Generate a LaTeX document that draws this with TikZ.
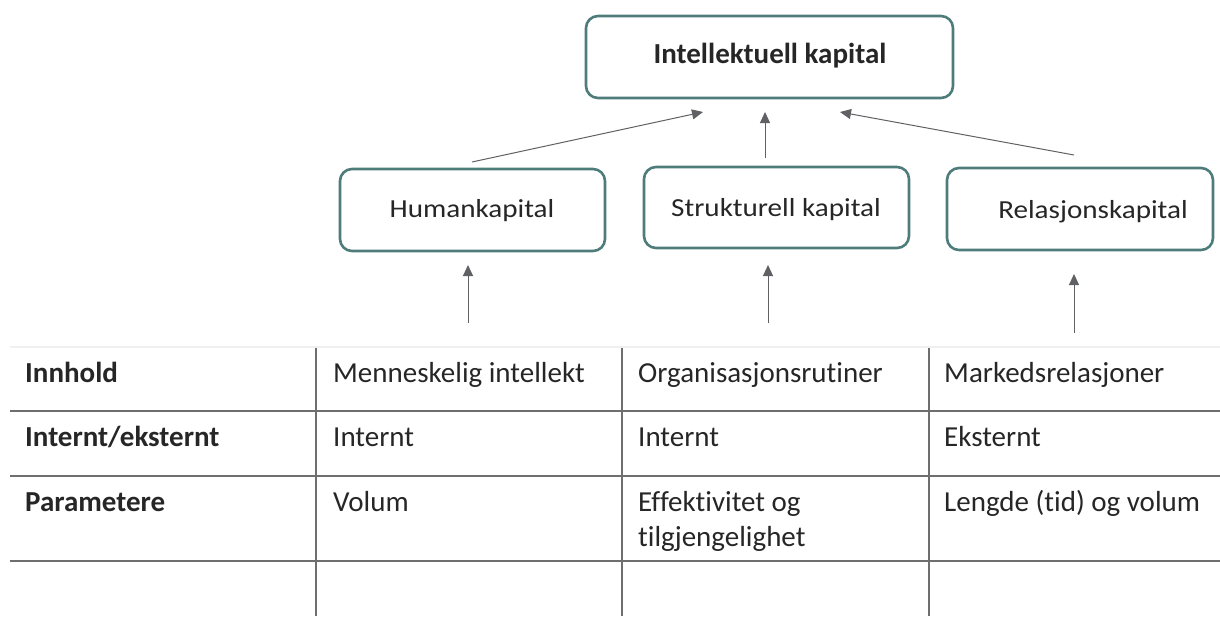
\documentclass[tikz,border=0pt]{standalone}
\usepackage{fontspec}
\setmainfont{Carlito}[Ligatures=CommonOff]
\newfontfamily\boxfont{Carlito}[Ligatures=CommonOff,FakeStretch=1.12]
\usetikzlibrary{arrows.meta}
\definecolor{boxteal}{HTML}{4E7C7B}
\definecolor{arrowgray}{HTML}{5F6164}
\definecolor{rulegray}{HTML}{6E6E6E}
\definecolor{txt}{HTML}{262626}
\tikzset{
  capbox/.style={draw=boxteal, line width=2.6pt, rounded corners=12pt, fill=white},
  boxtext/.style={anchor=base, text=txt, font=\boxfont\fontsize{26}{30}\selectfont, inner sep=0pt},
  toptext/.style={anchor=base, text=txt, font=\fontsize{29}{34}\selectfont\bfseries, inner sep=0pt},
  flow/.style={draw=arrowgray, line width=1pt, -{Triangle[length=11pt,width=10pt]}},
  grid/.style={draw=rulegray, line width=1.5pt},
  cell/.style={anchor=base west, align=left, inner sep=0pt, text=txt,
    font=\fontsize{29}{35}\selectfont},
  head/.style={cell, font=\fontsize{29}{35}\selectfont\bfseries}
}
\begin{document}
\begin{tikzpicture}[x=1pt,y=-1pt]
\useasboundingbox (0,0) rectangle (1220,616);

% top-level box
\draw[capbox] (586,16) rectangle (953,98);
\node[toptext] (ic) at (770,63) {Intellektuell kapital};
\coordinate (icL) at (703,112);
\coordinate (icM) at (765,112);
\coordinate (icR) at (840,112);

% second-level boxes
\draw[capbox] (340,169) rectangle (605,251);
\node[boxtext] (hk) at (472,217) {Humankapital};
\draw[capbox] (644,167) rectangle (909,248);
\node[boxtext] (sk) at (776,216) {Strukturell kapital};
\draw[capbox] (947,168) rectangle (1213,250);
\node[boxtext] (rk) at (1093,218) {Relasjonskapital};

% arrows into the top box
\coordinate (hkT) at (472,162);
\coordinate (skT) at (765,158);
\coordinate (rkT) at (1074,155);
\draw[flow] (hkT) -- (icL);
\draw[flow] (skT) -- (icM);
\draw[flow] (rkT) -- (icR);

% arrows from the table into the boxes
\coordinate (hkB) at (468,265);
\coordinate (skB) at (768,265);
\coordinate (rkB) at (1074,274);
\coordinate (c2) at (468,323);
\coordinate (c3) at (768,323);
\coordinate (c4) at (1074,333);
\draw[flow] (c2) -- (hkB);
\draw[flow] (c3) -- (skB);
\draw[flow] (c4) -- (rkB);

% table rules
\draw[draw=black!6, line width=1.5pt] (10,347) -- (1220,347);
\foreach \y in {411,476,561} \draw[grid] (10,\y) -- (1220,\y);
\foreach \x in {316,622,929} \draw[grid] (\x,348) -- (\x,616);

% table cells
\node[head] (h1) at (25,382) {Innhold};
\node[head] (h2) at (25,446) {Internt/eksternt};
\node[head] (h3) at (25,511) {Parametere};

\node[cell] (a1) at (333,382) {Menneskelig\ intellekt};
\node[cell] (a2) at (333,446) {Internt};
\node[cell] (a3) at (333,511) {Volum};

\node[cell] (b1) at (638,382) {Organisasjonsrutiner};
\node[cell] (b2) at (638,446) {Internt};
\node[cell] (b3a) at (638,511) {Effektivitet og};
\node[cell] (b3b) at (638,546) {tilgjengelighet};

\node[cell] (d1) at (944,382) {Markedsrelasjoner};
\node[cell] (d2) at (944,446) {Eksternt};
\node[cell] (d3) at (944,511) {Lengde (tid) og volum};
\end{tikzpicture}
\end{document}
